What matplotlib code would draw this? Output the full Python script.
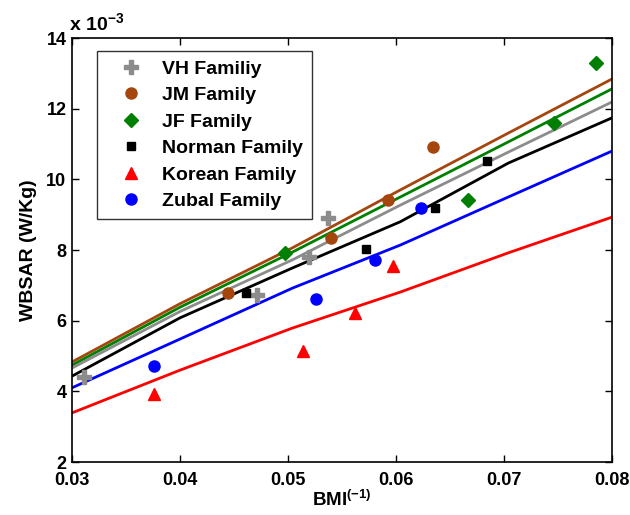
import matplotlib
matplotlib.use('Agg')
import matplotlib.pyplot as plt

plt.rcParams['font.family'] = ['Liberation Sans', 'DejaVu Sans']
plt.rcParams['font.weight'] = 'bold'
plt.rcParams['mathtext.fontset'] = 'custom'
plt.rcParams['mathtext.rm'] = 'Liberation Sans:bold'
plt.rcParams['mathtext.bf'] = 'Liberation Sans:bold'
plt.rcParams['mathtext.default'] = 'bf'

# fitted curves, read at these BMI^-1 positions (values x 1e-3 W/Kg)
line_x = [0.03, 0.04, 0.0504, 0.0604, 0.0704, 0.08]
line_vh = [4.66, 6.26, 7.72, 9.27, 10.77, 12.19]
line_jm = [4.83, 6.48, 8.06, 9.70, 11.31, 12.84]
line_jf = [4.74, 6.38, 7.94, 9.50, 11.06, 12.56]
line_norman = [4.43, 6.08, 7.49, 8.80, 10.46, 11.74]
line_korean = [3.39, 4.60, 5.79, 6.81, 7.92, 8.93]
line_zubal = [4.10, 5.48, 6.92, 8.14, 9.50, 10.80]

# measured points
vh_x = [0.0311, 0.0471, 0.0519, 0.0537]
vh_y = [4.40, 6.72, 7.80, 8.90]
jm_x = [0.0444, 0.0540, 0.0593, 0.0634]
jm_y = [6.78, 8.34, 9.42, 10.92]
jf_x = [0.0497, 0.0667, 0.0746, 0.0785]
jf_y = [7.92, 9.42, 11.60, 13.30]
norman_x = [0.0461, 0.0572, 0.0636, 0.0684]
norman_y = [6.78, 8.03, 9.19, 10.52]
korean_x = [0.0376, 0.0514, 0.0562, 0.0597]
korean_y = [3.93, 5.15, 6.22, 7.55]
zubal_x = [0.0376, 0.0526, 0.0581, 0.0623]
zubal_y = [4.72, 6.61, 7.72, 9.19]

c_vh = '#8c8c8c'
c_jm = '#a5460e'
c_jf = '#008000'
c_norman = '#000000'
c_korean = '#ff0000'
c_zubal = '#0000ff'

fig = plt.figure(figsize=(6.3, 5.15), dpi=100)
ax = fig.add_axes([0.1143, 0.1029, 0.8571, 0.8233])

# lines first, markers on top
ax.plot(line_x, line_jm, color=c_jm, lw=2)
ax.plot(line_x, line_jf, color=c_jf, lw=2)
ax.plot(line_x, line_vh, color=c_vh, lw=2)
ax.plot(line_x, line_norman, color=c_norman, lw=2)
ax.plot(line_x, line_zubal, color=c_zubal, lw=2)
ax.plot(line_x, line_korean, color=c_korean, lw=2)

ax.plot(vh_x, vh_y, 'P', color=c_vh, ms=10, ls='none', label='VH Familiy')
ax.plot(jm_x, jm_y, 'o', color=c_jm, ms=8, ls='none', label='JM Family')
ax.plot(jf_x, jf_y, 'D', color=c_jf, ms=7, ls='none', label='JF Family')
ax.plot(norman_x, norman_y, 's', color=c_norman, ms=6, ls='none', label='Norman Family')
ax.plot(korean_x, korean_y, '^', color=c_korean, ms=9, ls='none', label='Korean Family')
ax.plot(zubal_x, zubal_y, 'o', color=c_zubal, ms=8, ls='none', label='Zubal Family')

ax.set_xlim(0.03, 0.08)
ax.set_ylim(2, 14)
ax.set_xticks([0.03, 0.04, 0.05, 0.06, 0.07, 0.08])
ax.set_xticklabels(['0.03', '0.04', '0.05', '0.06', '0.07', '0.08'])
ax.set_yticks([2, 4, 6, 8, 10, 12, 14])
ax.tick_params(direction='in', top=True, right=True, length=5, width=1,
               labelsize=13)
ax.tick_params(axis='x', pad=7)
ax.tick_params(axis='y', pad=4)
for s in ax.spines.values():
    s.set_linewidth(1.2)

ax.set_xlabel('BMI$^{(-1)}$', fontsize=13.5, fontweight='bold', labelpad=1)
ax.set_ylabel('WBSAR (W/Kg)', fontsize=14, fontweight='bold', labelpad=7)
ax.text(-0.005, 1.01, 'x 10$^{-3}$', transform=ax.transAxes,
        fontsize=14, fontweight='bold', ha='left', va='bottom')

leg = ax.legend(loc='upper left', bbox_to_anchor=(0.046, 0.969), fontsize=14,
                frameon=True, fancybox=False, edgecolor='black',
                borderpad=0.45, labelspacing=0.46, handletextpad=0.3,
                borderaxespad=0, handlelength=2.6)
leg.get_frame().set_linewidth(1)

fig.savefig('out.png', dpi=100)
